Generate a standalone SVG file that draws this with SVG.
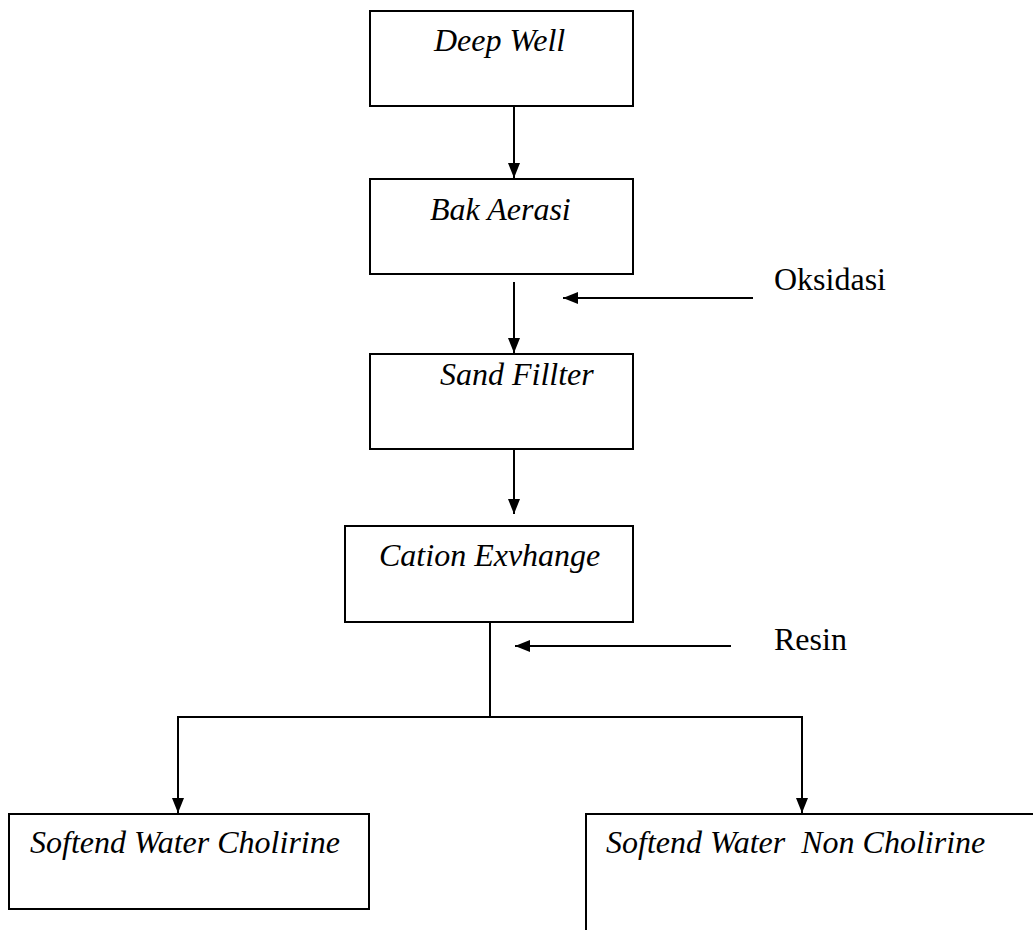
<svg xmlns="http://www.w3.org/2000/svg" width="1033" height="930" viewBox="0 0 1033 930">
<defs>
<style>
.box{fill:#fff;stroke:#000;stroke-width:2}
.lbl{font-family:"Liberation Serif","Times New Roman",serif;font-size:32px;font-style:italic;fill:#000;white-space:pre}
.side{font-family:"Liberation Serif","Times New Roman",serif;font-size:32px;fill:#000}
.ln{fill:none;stroke:#000;stroke-width:2}
</style>
<marker id="ah" markerUnits="userSpaceOnUse" markerWidth="16" markerHeight="12" refX="15" refY="6" orient="auto">
<path d="M0,0 L15,6 L0,12 z" fill="#000"/>
</marker>
</defs>
<rect width="1033" height="930" fill="#fff"/>
<g id="connectors">
<line class="ln" x1="514" y1="106" x2="514" y2="178" marker-end="url(#ah)"/>
<line class="ln" x1="514" y1="282" x2="514" y2="353" marker-end="url(#ah)"/>
<line class="ln" x1="753" y1="298" x2="563" y2="298" marker-end="url(#ah)"/>
<line class="ln" x1="514" y1="442" x2="514" y2="514" marker-end="url(#ah)"/>
<line class="ln" x1="490" y1="622" x2="490" y2="717"/>
<line class="ln" x1="731" y1="646" x2="515" y2="646" marker-end="url(#ah)"/>
<polyline class="ln" points="178,813 178,717 802,717 802,813"/>
<line class="ln" x1="178" y1="780" x2="178" y2="813" marker-end="url(#ah)"/>
<line class="ln" x1="802" y1="780" x2="802" y2="813" marker-end="url(#ah)"/>
</g>
<g id="deep-well">
<rect class="box" x="370" y="11" width="263" height="95"/>
<text class="lbl" x="434" y="51">Deep Well</text>
</g>
<g id="bak-aerasi">
<rect class="box" x="370" y="179" width="263" height="95"/>
<text class="lbl" x="430" y="220">Bak Aerasi</text>
</g>
<g id="oksidasi">
<text class="side" x="774" y="290">Oksidasi</text>
</g>
<g id="sand-fillter">
<rect class="box" x="370" y="354" width="263" height="95"/>
<text class="lbl" x="440" y="385">Sand Fillter</text>
</g>
<g id="cation-exchange">
<rect class="box" x="345" y="526" width="288" height="96"/>
<text class="lbl" x="379" y="566">Cation Exvhange</text>
</g>
<g id="resin">
<text class="side" x="774" y="650">Resin</text>
</g>
<g id="softend-cholirine">
<rect class="box" x="9" y="814" width="360" height="95"/>
<text class="lbl" x="30" y="853">Softend Water Cholirine</text>
</g>
<g id="softend-non-cholirine">
<rect class="box" x="586" y="814" width="470" height="140"/>
<text class="lbl" x="606" y="853" xml:space="preserve">Softend Water  Non Cholirine</text>
</g>
</svg>
